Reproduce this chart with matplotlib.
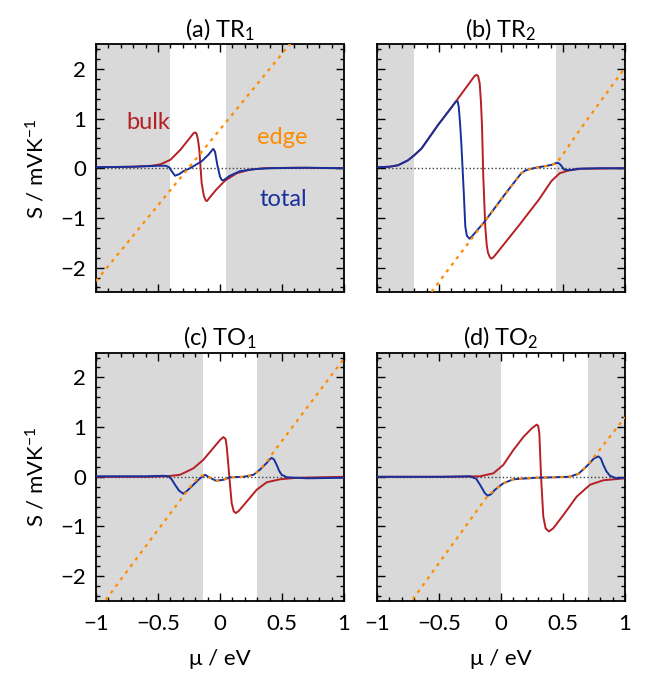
import matplotlib
matplotlib.use('Agg')
import matplotlib.pyplot as plt
from matplotlib.ticker import MultipleLocator

plt.rcParams['font.family'] = ['Lato', 'DejaVu Sans']
plt.rcParams['mathtext.fontset'] = 'custom'
plt.rcParams['mathtext.rm'] = 'Lato'
plt.rcParams['mathtext.it'] = 'Lato:italic'
plt.rcParams['mathtext.sf'] = 'Lato'
plt.rcParams['font.size'] = 16

# colours
c_bulk = '#b52025'
c_edge = '#ff8c00'
c_total = '#17309c'
c_gap = '#d9d9d9'

titles = ['(a) TR$_1$', '(b) TR$_2$', '(c) TO$_1$', '(d) TO$_2$']

# white window (inside of the gap) per panel
gap_lo = [-0.40, -0.70, -0.14, 0.0]
gap_hi = [0.05, 0.445, 0.30, 0.70]

# (a) TR1
bulk_a_x = [-1.0, -0.7, -0.55, -0.48, -0.40, -0.32, -0.24, -0.215, -0.20, -0.19, -0.178, -0.167, -0.148,
            -0.13, -0.115, -0.105, -0.08, -0.03, 0.04, 0.135, 0.24, 0.35, 0.6, 1.0]
bulk_a_y = [0.02, 0.03, 0.05, 0.08, 0.17, 0.37, 0.62, 0.70, 0.72, 0.70, 0.58, 0.37, -0.30,
            -0.56, -0.65, -0.66, -0.58, -0.43, -0.25, -0.10, -0.03, 0.0, 0.01, 0.0]
total_a_x = [-1.0, -0.7, -0.5, -0.44, -0.41, -0.39, -0.363, -0.33, -0.296, -0.25, -0.215, -0.148, -0.094,
             -0.065, -0.054, -0.04, -0.022, 0.0, 0.015, 0.03, 0.08, 0.16, 0.27, 0.4, 0.7, 1.0]
total_a_y = [0.02, 0.03, 0.05, 0.05, 0.02, -0.06, -0.15, -0.12, -0.06, -0.01, 0.04, 0.14, 0.27,
             0.36, 0.39, 0.33, 0.07, -0.17, -0.24, -0.24, -0.15, -0.06, -0.02, 0.0, 0.01, 0.0]
edge_a_x = [-1.0, 0.6]
edge_a_y = [-2.27, 2.61]

# (b) TR2
bulk_b_x = [-1.0, -0.9, -0.83, -0.75, -0.70, -0.64, -0.508, -0.365, -0.25, -0.215, -0.20, -0.185, -0.172,
            -0.162, -0.153, -0.143, -0.127, -0.115, -0.105, -0.09, -0.078, -0.06, 0.145, 0.306, 0.406,
            0.473, 0.554, 0.65, 1.0]
bulk_b_y = [0.02, 0.03, 0.06, 0.16, 0.26, 0.40, 0.87, 1.34, 1.73, 1.85, 1.88, 1.86, 1.71,
            1.35, 0.84, -0.16, -1.17, -1.55, -1.70, -1.79, -1.82, -1.79, -1.15, -0.63, -0.26,
            -0.10, -0.04, -0.01, 0.0]
total_b_x = [-1.0, -0.9, -0.83, -0.75, -0.70, -0.64, -0.508, -0.40, -0.365, -0.35, -0.341, -0.33, -0.32,
             -0.30, -0.288, -0.275, -0.253, -0.23, -0.131, 0.03, 0.12, 0.164, 0.2, 0.245, 0.30, 0.352,
             0.41, 0.44, 0.46, 0.48, 0.51, 0.56, 0.62, 0.8, 1.0]
total_b_y = [0.02, 0.03, 0.06, 0.16, 0.26, 0.40, 0.87, 1.22, 1.34, 1.35, 1.24, 0.9, 0.5,
             -0.5, -1.17, -1.36, -1.42, -1.36, -1.07, -0.53, -0.24, -0.10, -0.04, -0.01, 0.02, 0.04,
             0.07, 0.10, 0.11, 0.07, -0.03, -0.04, -0.01, 0.0, 0.0]
edge_b_x = [-0.6, -0.48, -0.131, 0.03, 0.12, 0.164, 0.2, 0.245, 0.3, 0.352, 0.41, 0.446, 0.5, 0.621, 0.987, 1.0]
edge_b_y = [-2.62, -2.22, -1.07, -0.54, -0.24, -0.10, -0.04, -0.01, 0.02, 0.04, 0.07, 0.10, 0.28, 0.72, 1.98, 2.02]

# (c) TO1
bulk_c_x = [-1.0, -0.6, -0.43, -0.323, -0.215, -0.135, -0.054, 0.0, 0.027, 0.045, 0.054, 0.065, 0.075,
            0.094, 0.11, 0.126, 0.15, 0.215, 0.296, 0.377, 0.484, 0.62, 1.0]
bulk_c_y = [0.0, 0.0, 0.01, 0.04, 0.17, 0.34, 0.58, 0.74, 0.80, 0.76, 0.61, 0.3, 0.0,
            -0.53, -0.69, -0.73, -0.69, -0.50, -0.26, -0.11, -0.05, -0.02, 0.0]
total_c_x = [-1.0, -0.6, -0.45, -0.417, -0.39, -0.363, -0.33, -0.296, -0.26, -0.215, -0.161, -0.121, -0.08,
             -0.032, 0.027, 0.08, 0.19, 0.27, 0.32, 0.377, 0.40, 0.417, 0.435, 0.457, 0.477, 0.497,
             0.54, 0.7, 1.0]
total_c_y = [0.01, 0.01, 0.02, 0.01, -0.05, -0.16, -0.28, -0.34, -0.27, -0.16, -0.03, 0.04, -0.02,
             -0.08, -0.06, -0.01, 0.0, 0.04, 0.14, 0.28, 0.35, 0.38, 0.35, 0.24, 0.12, 0.04,
             -0.01, -0.03, -0.02]
edge_c_x = [-1.0, -0.914, -0.51, -0.296, -0.25, -0.215, -0.18, -0.15, -0.121, -0.08, -0.032, 0.027, 0.08,
            0.19, 0.27, 0.32, 0.377, 0.417, 0.565, 0.994, 1.0]
edge_c_y = [-2.74, -2.45, -1.10, -0.39, -0.23, -0.12, -0.04, 0.02, 0.04, -0.02, -0.08, -0.06, -0.01,
            0.0, 0.04, 0.14, 0.30, 0.45, 0.94, 2.36, 2.38]

# (d) TO2
bulk_d_x = [-1.0, -0.4, -0.17, -0.062, 0.019, 0.10, 0.18, 0.25, 0.288, 0.30, 0.309, 0.316, 0.323,
            0.341, 0.36, 0.387, 0.42, 0.503, 0.61, 0.718, 0.825, 1.0]
bulk_d_y = [0.0, 0.0, 0.01, 0.07, 0.24, 0.54, 0.80, 0.98, 1.05, 1.02, 0.88, 0.45, 0.0,
            -0.80, -1.04, -1.10, -1.04, -0.77, -0.40, -0.16, -0.07, -0.03]
total_d_x = [-1.0, -0.5, -0.25, -0.2, -0.169, -0.13, -0.107, -0.08, -0.048, 0.019, 0.10, 0.28, 0.55,
             0.624, 0.69, 0.75, 0.785, 0.805, 0.825, 0.85, 0.879, 0.93, 1.0]
total_d_y = [0.0, 0.0, 0.01, -0.04, -0.16, -0.33, -0.38, -0.35, -0.26, -0.13, -0.05, -0.02, 0.0,
             0.06, 0.21, 0.37, 0.41, 0.37, 0.24, 0.11, 0.02, -0.03, -0.02]
edge_d_x = [-0.75, -0.707, -0.385, -0.2, -0.107, -0.048, 0.019, 0.10, 0.28, 0.55, 0.624, 0.69, 0.75, 0.986, 1.0]
edge_d_y = [-2.60, -2.45, -1.34, -0.70, -0.38, -0.26, -0.13, -0.05, -0.02, 0.0, 0.06, 0.21, 0.40, 1.15, 1.20]

panels = [
    (bulk_a_x, bulk_a_y, total_a_x, total_a_y, edge_a_x, edge_a_y),
    (bulk_b_x, bulk_b_y, total_b_x, total_b_y, edge_b_x, edge_b_y),
    (bulk_c_x, bulk_c_y, total_c_x, total_c_y, edge_c_x, edge_c_y),
    (bulk_d_x, bulk_d_y, total_d_x, total_d_y, edge_d_x, edge_d_y),
]

fig, axes = plt.subplots(2, 2, figsize=(6.47, 6.75), dpi=100, sharex=True, sharey=True)
fig.subplots_adjust(left=0.1484, right=0.966, top=0.9348, bottom=0.1096, wspace=0.133, hspace=0.242)

for i, ax in enumerate(axes.flat):
    bx, by, tx, ty, ex, ey = panels[i]
    ax.axvspan(-1, gap_lo[i], color=c_gap, lw=0, zorder=0)
    ax.axvspan(gap_hi[i], 1, color=c_gap, lw=0, zorder=0)
    ax.axhline(0, color='0.25', ls=':', lw=1.0, zorder=1)
    ax.plot(bx, by, color=c_bulk, lw=1.4, zorder=2)
    ax.plot(tx, ty, color=c_total, lw=1.4, zorder=3)
    ax.plot(ex, ey, color=c_edge, lw=1.6, ls=(0, (1.5, 2.2)), zorder=4)

    ax.set_xlim(-1, 1)
    ax.set_ylim(-2.5, 2.5)
    ax.xaxis.set_major_locator(MultipleLocator(0.5))
    ax.xaxis.set_minor_locator(MultipleLocator(0.1))
    ax.yaxis.set_major_locator(MultipleLocator(1))
    ax.yaxis.set_minor_locator(MultipleLocator(0.2))
    ax.tick_params(which='both', direction='in', top=True, right=True, width=1.0, labelsize=16)
    ax.tick_params(which='major', length=6)
    ax.tick_params(which='minor', length=3)
    ax.tick_params(axis='x', pad=9)
    ax.tick_params(axis='y', pad=7)
    for s in ax.spines.values():
        s.set_linewidth(1.3)
    ax.set_title(titles[i], fontsize=17, pad=5)
    ax.set_xticks([-1, -0.5, 0, 0.5, 1])
    ax.set_xticklabels(['\u22121', '\u22120.5', '0', '0.5', '1'])

for ax in axes[:, 0]:
    ax.set_ylabel('S / mVK$^{-1}$', fontsize=16, labelpad=9)
for ax in axes[1, :]:
    ax.set_xlabel('\u03bc / eV', fontsize=16, labelpad=11)

ax = axes[0, 0]
ax.text(-0.58, 0.92, 'bulk', color=c_bulk, fontsize=17, ha='center', va='center')
ax.text(0.50, 0.61, 'edge', color=c_edge, fontsize=17, ha='center', va='center')
ax.text(0.51, -0.63, 'total', color=c_total, fontsize=17, ha='center', va='center')

fig.savefig('out.png', dpi=100)
